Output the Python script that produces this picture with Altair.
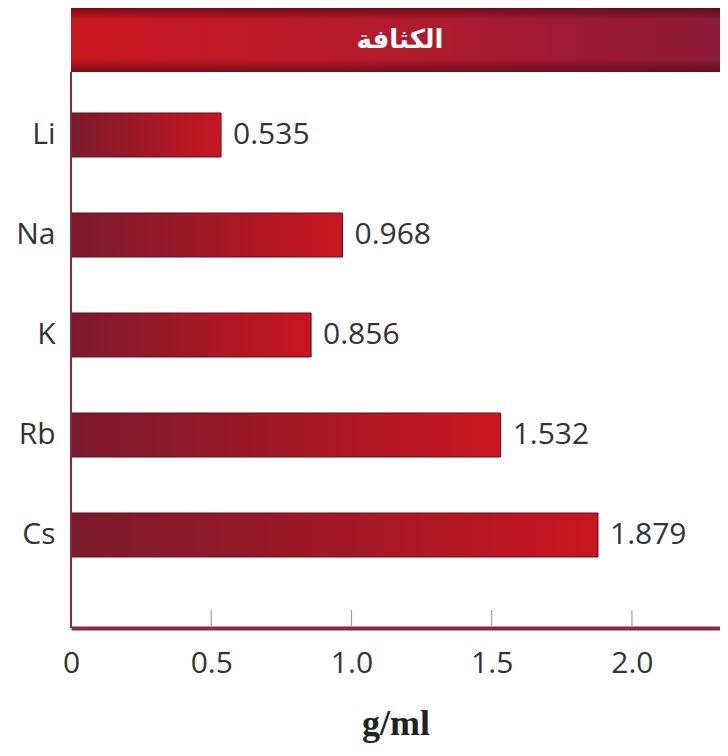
import altair as alt
import pandas as pd

# ---- data ----
elements = ["Li", "Na", "K", "Rb", "Cs"]
density = [0.535, 0.968, 0.856, 1.532, 1.879]
tick_values = [0.5, 1.0, 1.5, 2.0]
axis_labels = [0, 0.5, 1.0, 1.5, 2.0]
header = ["الكثافة"]
x_title = "g/ml"

W, H = 649, 556
XMAX = 2.314

df = pd.DataFrame({"el": elements, "value": density})
ticks_df = pd.DataFrame({"v": tick_values})
head_df = pd.DataFrame({"t": header})

xscale = alt.Scale(domain=[0, XMAX], nice=False, zero=True)
yscale = alt.Scale(domain=elements, range=[13, 513], paddingInner=0.56, paddingOuter=0.28)

bar_grad = alt.LinearGradient(
    gradient="linear", x1=0, y1=0, x2=1, y2=0,
    stops=[alt.GradientStop(offset=0, color="#7a1a2c"),
           alt.GradientStop(offset=1, color="#c8161f")])

head_grad = alt.LinearGradient(
    gradient="linear", x1=0, y1=0, x2=1, y2=0,
    stops=[alt.GradientStop(offset=0, color="#c8161f"),
           alt.GradientStop(offset=0.5, color="#b21b2c"),
           alt.GradientStop(offset=1, color="#8c1a38")])

head_shade_grad = alt.LinearGradient(
    gradient="linear", x1=0, y1=0, x2=0, y2=1,
    stops=[alt.GradientStop(offset=0, color="rgba(50,0,10,0.55)"),
           alt.GradientStop(offset=0.18, color="rgba(50,0,10,0)"),
           alt.GradientStop(offset=0.8, color="rgba(50,0,10,0)"),
           alt.GradientStop(offset=1, color="rgba(50,0,10,0.5)")])

bars = alt.Chart(df).mark_bar(color=bar_grad, stroke="#5c1020", strokeWidth=1).encode(
    x=alt.X("value:Q", scale=xscale,
            axis=alt.Axis(values=axis_labels,
                          labelExpr="datum.value == 0 ? '0' : format(datum.value, '.1f')",
                          ticks=False, grid=False, labelFlush=False,
                          domainColor="#8a2a48", domainWidth=4,
                          labelFontSize=30, labelColor="#333", labelPadding=20,
                          labelFont="Open Sans",
                          title=x_title, titleFont="Liberation Serif", titleFontSize=36,
                          titleFontWeight="bold", titleColor="#222", titlePadding=28)),
    y=alt.Y("el:N", scale=yscale, sort=elements,
            axis=alt.Axis(domain=False, ticks=False, labelFontSize=30, labelColor="#333",
                          labelFont="Open Sans", labelPadding=16, title=None)))

head_rect = alt.Chart(head_df).mark_rect(color=head_grad).encode(
    x=alt.value(0), x2=alt.value(W), y=alt.value(-64), y2=alt.value(0))
head_shade = alt.Chart(head_df).mark_rect(color=head_shade_grad).encode(
    x=alt.value(0), x2=alt.value(W), y=alt.value(-64), y2=alt.value(0))
head_text = alt.Chart(head_df).mark_text(
    color="white", fontSize=26, font="DejaVu Sans", fontWeight="bold",
    align="center", baseline="middle").encode(
    x=alt.value(329), y=alt.value(-32), text="t:N")

tick_rules = alt.Chart(ticks_df).mark_rule(color="#a0a0a0", strokeWidth=1.2).encode(
    x=alt.X("v:Q", scale=xscale),
    y=alt.value(H - 18), y2=alt.value(H - 2))

labels = alt.Chart(df).mark_text(
    align="left", baseline="middle", dx=12, fontSize=30, color="#333", font="Open Sans").encode(
    x=alt.X("value:Q", scale=xscale),
    y=alt.Y("el:N", scale=yscale, sort=elements),
    text=alt.Text("value:Q", format=".3f"))

left_line = alt.Chart(head_df).mark_rule(color="#8a2a48", strokeWidth=2).encode(
    x=alt.value(0), y=alt.value(0), y2=alt.value(H))

chart = alt.layer(bars, labels, tick_rules, head_rect, head_shade, head_text, left_line).properties(
    width=W, height=H,
    autosize=alt.AutoSizeParams(type="none"),
    padding={"left": 63, "top": 64, "right": 0, "bottom": 120},
).configure(font="Open Sans", background="white", view=alt.ViewConfig(strokeWidth=0))

chart.save("out.html", embed_options={"renderer": "svg", "actions": False})
